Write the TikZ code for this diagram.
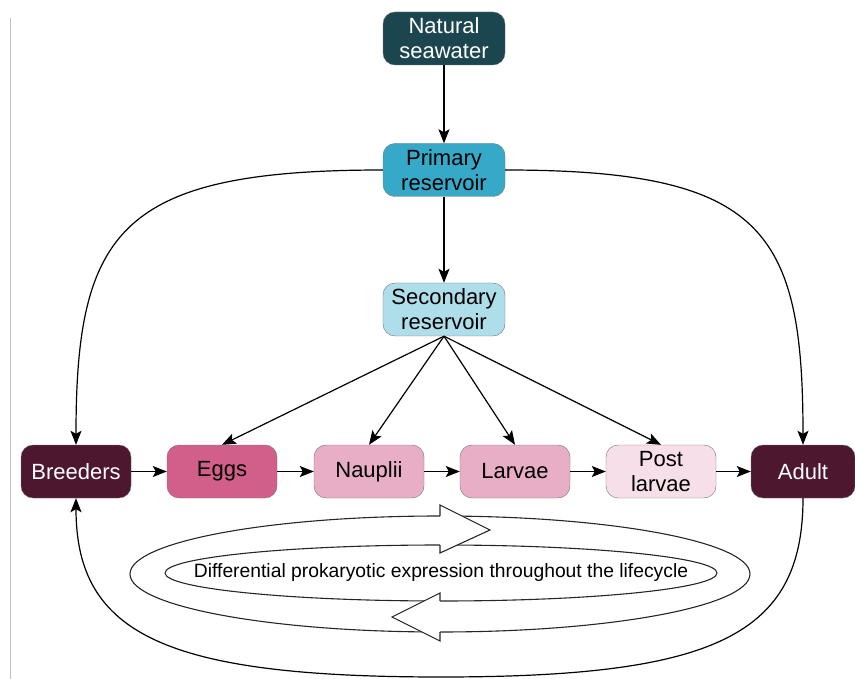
\documentclass[tikz,border=0pt]{standalone}
\usepackage{fontspec}
\setmainfont{Liberation Sans}
\usepackage{xcolor}
\usepackage{tikz}
\usetikzlibrary{positioning,arrows.meta,calc}

\definecolor{seadark}{HTML}{1B4650}
\definecolor{primblue}{HTML}{36A9C9}
\definecolor{secblue}{HTML}{ADDEEA}
\definecolor{maroon}{HTML}{4E1730}
\definecolor{eggpink}{HTML}{D25F8A}
\definecolor{midpink}{HTML}{E8AEC6}
\definecolor{palepink}{HTML}{F7DFE9}

\begin{document}
\begin{tikzpicture}[x=1pt, y=-1pt, font=\fontsize{22}{25}\selectfont,
    box/.style={draw=black!55, rounded corners=12pt, minimum width=110pt, minimum height=53pt, inner sep=0pt, align=center},
    topbox/.style={box, minimum width=122pt},
    link/.style={-{Stealth[length=14pt, width=11pt, inset=3pt]}, line width=1.2pt},
    ring/.style={line width=1.1pt, black!85}]

  \useasboundingbox (0,0) rectangle (855,679);
  \draw[black!25, line width=0.8pt] (10.5,18) -- (10.5,679);

  % Water supply
  \node[topbox, fill=seadark, text=white] (nat) at (444,38.5) {Natural\\seawater};
  \node[topbox, fill=primblue] (prim) at (444,170) {Primary\\reservoir};
  \node[topbox, fill=secblue] (sec) at (444,309.5) {Secondary\\reservoir};

  % Life stages
  \node[box, fill=maroon, text=white] (breed) at (76,471.5) {Breeders};
  \node[box, fill=eggpink] (eggs) at (222,471.5) {Eggs};
  \node[box, fill=midpink] (naup) at (369,471.5) {Nauplii};
  \node[box, fill=midpink] (larv) at (515,471.5) {Larvae};
  \node[box, fill=palepink] (post) at (661,471.5) {Post\\larvae};
  \node[box, fill=maroon, text=white, minimum width=104pt] (adult) at (803,471.5) {Adult};

  % Supply arrows
  \draw[link] (nat) -- (prim);
  \draw[link] (prim) -- (sec);
  \draw[link] (prim.west) .. controls +(-262,0) and +(0,-215) .. (breed.north);
  \draw[link] (prim.east) .. controls +(258,0) and +(0,-215) .. (adult.north);
  \draw[link] (sec.south) -- (eggs.north);
  \draw[link] (sec.south) -- (naup.north);
  \draw[link] (sec.south) -- (larv.north);
  \draw[link] (sec.south) -- (post.north);

  % Stage to stage
  \draw[link] (breed) -- (eggs);
  \draw[link] (eggs) -- (naup);
  \draw[link] (naup) -- (larv);
  \draw[link] (larv) -- (post);
  \draw[link] (post) -- (adult);

  % Back to breeders
  \coordinate (loopbot) at (441,677);
  \draw[link] (adult.south) .. controls +(0,137) and (715,677) .. (loopbot)
    .. controls (167,677) and +(0,137) .. (breed.south);

  % Cycle ring
  \draw[ring] (440,574) ellipse [x radius=310, y radius=58];
  \draw[ring] (441,573) ellipse [x radius=276, y radius=28];
  \fill[white] (440,516) -- (440,505) -- (490,530) -- (440,553) -- (440,545) -- cycle;
  \draw[ring] (440,516) -- (440,505) -- (490,530) -- (440,553) -- (440,545);
  \fill[white] (440,601) -- (440,593) -- (392,617) -- (440,641) -- (440,632) -- cycle;
  \draw[ring] (440,601) -- (440,593) -- (392,617) -- (440,641) -- (440,632);
  \node[font=\fontsize{19.3}{23}\selectfont] (cycle) at (441,573) {Differential prokaryotic expression throughout the lifecycle};

\end{tikzpicture}
\end{document}
